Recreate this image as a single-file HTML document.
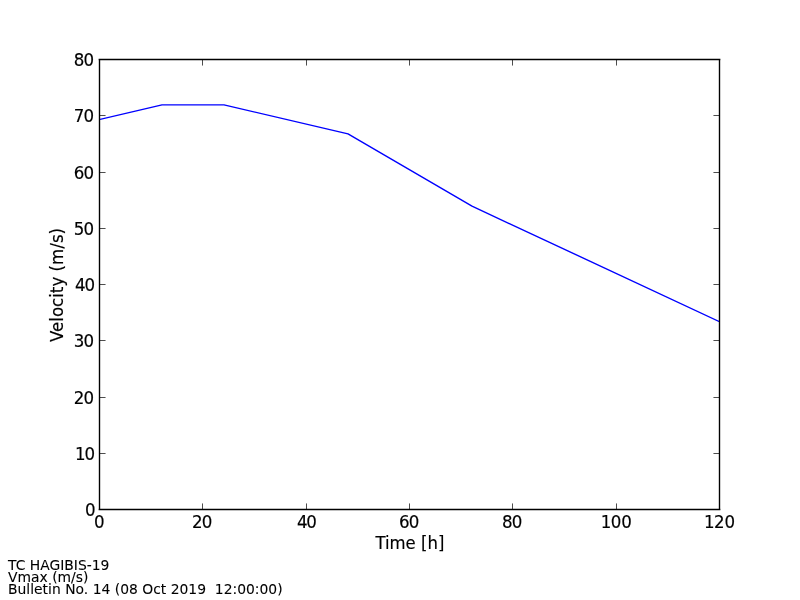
<!DOCTYPE html>
<html><head><meta charset="utf-8"><title>TC HAGIBIS-19 Vmax</title>
<style>
html,body{margin:0;padding:0;background:#fff;width:800px;height:600px;overflow:hidden}
svg{display:block;position:absolute;left:0;top:0}
text{font-family:"DejaVu Sans","Liberation Sans",sans-serif;fill:#000}
.t12{font-size:16.667px;stroke:#000;stroke-width:0.16px}
.t10{font-size:13.889px;stroke:#000;stroke-width:0.08px}
</style></head><body>
<svg width="800" height="600" viewBox="0 0 800 600">
<rect width="800" height="600" fill="#fff"/>
<clipPath id="ax"><rect x="100" y="60" width="620" height="450"/></clipPath>
<polyline clip-path="url(#ax)" points="100.00,119.34 162.00,104.88 224.00,104.88 348.00,133.81 472.00,206.16 720.00,321.91" fill="none" stroke="#0000ff" stroke-width="1.39" stroke-linejoin="round"/>
<path d="M99.5 509.5V503.45M99.5 60v5.56M202.5 509.5V503.45M202.5 60v5.56M306.5 509.5V503.45M306.5 60v5.56M409.5 509.5V503.45M409.5 60v5.56M512.5 509.5V503.45M512.5 60v5.56M616.5 509.5V503.45M616.5 60v5.56M719.5 509.5V503.45M719.5 60v5.56M100 509.5h5.56M719.5 509.5H713.45M100 453.5h5.56M719.5 453.5H713.45M100 397.5h5.56M719.5 397.5H713.45M100 340.5h5.56M719.5 340.5H713.45M100 284.5h5.56M719.5 284.5H713.45M100 228.5h5.56M719.5 228.5H713.45M100 172.5h5.56M719.5 172.5H713.45M100 115.5h5.56M719.5 115.5H713.45M100 59.5h5.56M719.5 59.5H713.45" stroke="#000" stroke-width="0.7" fill="none"/>
<path d="M99.5 510.3V58.7M719.5 58.7V510.3M98.6 59.5H720.4M98.6 509.5H720.4" fill="none" stroke="#000" stroke-width="1.39"/>
<g class="t12"><text transform="translate(0,527.7) scale(1,1.065)" x="93.95" y="0">0</text><text transform="translate(0,527.7) scale(1,1.065)" x="192.00 201.80" y="0">20</text><text transform="translate(0,527.7) scale(1,1.065)" x="297.00 306.30" y="0">40</text><text transform="translate(0,527.7) scale(1,1.065)" x="399.00 408.80" y="0">60</text><text transform="translate(0,527.7) scale(1,1.065)" x="502.00 511.80" y="0">80</text><text transform="translate(0,527.7) scale(1,1.065)" x="600.80 610.70 621.20" y="0">100</text><text transform="translate(0,527.7) scale(1,1.065)" x="704.00 713.90 724.40" y="0">120</text><text transform="translate(0,515.7) scale(1,1.065)" x="85.10" y="0">0</text><text transform="translate(0,459.7) scale(1,1.065)" x="75.00 84.60" y="0">10</text><text transform="translate(0,403.7) scale(1,1.065)" x="73.80 83.60" y="0">20</text><text transform="translate(0,346.7) scale(1,1.065)" x="73.80 83.60" y="0">30</text><text transform="translate(0,290.7) scale(1,1.065)" x="75.05 84.60" y="0">40</text><text transform="translate(0,234.7) scale(1,1.065)" x="73.80 83.60" y="0">50</text><text transform="translate(0,178.7) scale(1,1.065)" x="73.80 83.60" y="0">60</text><text transform="translate(0,121.7) scale(1,1.065)" x="73.80 83.60" y="0">70</text><text transform="translate(0,65.7) scale(1,1.065)" x="73.80 83.60" y="0">80</text>
<text transform="translate(409.85,548.95) scale(0.99,1.065)" text-anchor="middle">Time [h]</text>
<text transform="translate(62.8,285) rotate(-90) scale(1,1.065)" text-anchor="middle">Velocity (m/s)</text>
</g>
<g class="t10">
<text x="8" y="570">TC HAGIBIS-19</text>
<text x="8" y="581.7">Vmax (m/s)</text>
<text x="8" y="594.2" xml:space="preserve" textLength="274.6" lengthAdjust="spacing">Bulletin No. 14 (08 Oct 2019  12:00:00)</text>
</g>
</svg>
</body></html>
